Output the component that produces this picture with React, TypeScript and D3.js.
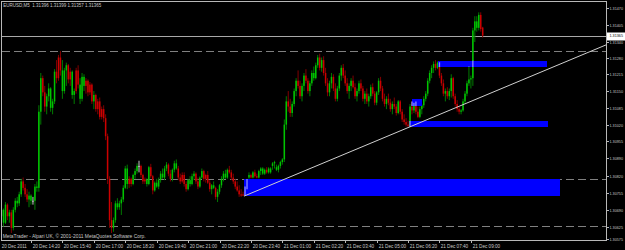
import React from "react";
import * as d3 from "d3";

const W = 625;
const H = 250;

const headerText = "EURUSD,M5  1.31396 1.31399 1.31357 1.31365";
const copyrightText = "MetaTrader - Alpari UK, © 2001-2011 MetaQuotes Software Corp.";

const timeLabels = [
  "20 Dec 2011", "20 Dec 14:20", "20 Dec 15:40", "20 Dec 17:00", "20 Dec 18:20",
  "20 Dec 19:40", "20 Dec 21:00", "20 Dec 22:20", "20 Dec 23:40", "21 Dec 01:00",
  "21 Dec 02:20", "21 Dec 03:40", "21 Dec 05:00", "21 Dec 06:20", "21 Dec 07:40",
  "21 Dec 09:00",
];
const timeLabelBars = [0, 16, 32, 48, 64, 80, 96, 112, 128, 144, 160, 176, 192, 208, 224, 240];

const priceLabels = [
  1.3147, 1.31405, 1.3134, 1.3128, 1.31215, 1.3115, 1.31085, 1.3102,
  1.30955, 1.3089, 1.3082, 1.30755, 1.3069, 1.30625, 1.30575,
];
const currentPrice = 1.31365;
const dashedLevels = [1.31306, 1.30809, 1.30627];

// rectangles: from bar, to bar, low price, high price
const rectBars0 = [223.5, 208.8, 124.7, 209.8];
const rectBars1 = [278.5, 279.5, 285.6, 214.9];
const rectLow = [1.31243, 1.31011, 1.30743, 1.31092];
const rectHigh = [1.31267, 1.31034, 1.30809, 1.31119];

// trend line anchors: bar, price
const trendBars = [124.5, 208.5];
const trendPrices = [1.30743, 1.3101];

// EURUSD M5 candles: [open, high, low, close]
const ohlc: [number, number, number, number][] = [
  [1.307, 1.30715, 1.3065, 1.30665],
  [1.30665, 1.307, 1.3064, 1.3069],
  [1.3064, 1.30695, 1.30625, 1.3069],
  [1.3064, 1.3072, 1.30635, 1.3071],
  [1.3071, 1.30715, 1.3065, 1.30665],
  [1.30665, 1.3069, 1.3064, 1.3068],
  [1.3068, 1.3069, 1.306, 1.3062],
  [1.3062, 1.307, 1.3061, 1.3069],
  [1.3069, 1.30735, 1.3068, 1.30725],
  [1.30715, 1.3074, 1.307, 1.30725],
  [1.30715, 1.3076, 1.30705, 1.3075],
  [1.3075, 1.3081, 1.3074, 1.308],
  [1.308, 1.30815, 1.30765, 1.30775],
  [1.30775, 1.3079, 1.3074, 1.3075],
  [1.3075, 1.3077, 1.3072, 1.3073],
  [1.3073, 1.3076, 1.307, 1.30745],
  [1.30725, 1.3075, 1.3071, 1.30745],
  [1.30725, 1.3074, 1.3071, 1.30725],
  [1.30725, 1.3079, 1.3069, 1.3078],
  [1.30775, 1.308, 1.3076, 1.3078],
  [1.30775, 1.31095, 1.3076, 1.3107],
  [1.3107, 1.3122, 1.3102, 1.312],
  [1.312, 1.3121, 1.3113, 1.31145],
  [1.31145, 1.3117, 1.3107, 1.3109],
  [1.3109, 1.3114, 1.3106, 1.3113],
  [1.3113, 1.3118, 1.3111, 1.3116],
  [1.31085, 1.31165, 1.3107, 1.3116],
  [1.31085, 1.3112, 1.3106, 1.3111],
  [1.3111, 1.31235, 1.311, 1.31225],
  [1.31225, 1.3127, 1.3118, 1.312],
  [1.3128, 1.3129, 1.3119, 1.312],
  [1.3128, 1.31305, 1.3121, 1.3123],
  [1.3115, 1.3127, 1.3112, 1.3123],
  [1.3115, 1.3124, 1.3114, 1.3123],
  [1.3123, 1.3126, 1.3117, 1.3125],
  [1.3125, 1.31255, 1.3118, 1.31195],
  [1.31225, 1.3124, 1.3117, 1.31195],
  [1.31135, 1.3123, 1.3112, 1.31225],
  [1.31135, 1.3116, 1.311, 1.3115],
  [1.3123, 1.3124, 1.3114, 1.3115],
  [1.3123, 1.3125, 1.3116, 1.31175],
  [1.3112, 1.312, 1.311, 1.31175],
  [1.3112, 1.3122, 1.3111, 1.31205],
  [1.3117, 1.31215, 1.3115, 1.31205],
  [1.3119, 1.312, 1.3114, 1.3117],
  [1.3119, 1.31195, 1.3113, 1.31145],
  [1.31175, 1.31185, 1.31135, 1.31145],
  [1.31175, 1.3118, 1.311, 1.3111],
  [1.3111, 1.3115, 1.3108, 1.31135],
  [1.31135, 1.3114, 1.3107, 1.3108],
  [1.3111, 1.3112, 1.3106, 1.3108],
  [1.3111, 1.31125, 1.3104, 1.3105],
  [1.3108, 1.3109, 1.3104, 1.3105],
  [1.3108, 1.31095, 1.3103, 1.31045],
  [1.31045, 1.3106, 1.3096, 1.30975],
  [1.30975, 1.30985, 1.3079, 1.3081],
  [1.3081, 1.3082, 1.3062, 1.3065],
  [1.3065, 1.3072, 1.306, 1.3062],
  [1.3062, 1.3066, 1.30605, 1.3065],
  [1.3065, 1.30725, 1.3064, 1.30715],
  [1.307, 1.30735, 1.3069, 1.30715],
  [1.307, 1.30725, 1.3069, 1.30715],
  [1.30715, 1.3074, 1.3067, 1.3073],
  [1.3073, 1.30785, 1.3072, 1.30775],
  [1.30775, 1.3086, 1.3077, 1.3085],
  [1.3079, 1.30865, 1.3077, 1.3085],
  [1.3081, 1.3082, 1.30775, 1.3079],
  [1.3081, 1.30815, 1.3078, 1.3079],
  [1.3079, 1.3083, 1.30785, 1.30825],
  [1.30825, 1.3085, 1.3081, 1.3084],
  [1.3084, 1.3087, 1.3083, 1.3086],
  [1.3086, 1.3088, 1.30835, 1.3086],
  [1.3086, 1.30865, 1.30815, 1.30825],
  [1.30825, 1.3083, 1.3079, 1.308],
  [1.30808, 1.30815, 1.3079, 1.308],
  [1.3079, 1.30812, 1.3078, 1.30808],
  [1.3079, 1.3086, 1.30785, 1.30855],
  [1.30855, 1.30868, 1.30812, 1.3082],
  [1.3082, 1.30825, 1.3075, 1.30765],
  [1.30765, 1.308, 1.3076, 1.30795],
  [1.3078, 1.3081, 1.30775, 1.30795],
  [1.3078, 1.30815, 1.3077, 1.30805],
  [1.30805, 1.3084, 1.30795, 1.3083],
  [1.30815, 1.3085, 1.3081, 1.3083],
  [1.30815, 1.3086, 1.30805, 1.3085],
  [1.3085, 1.30875, 1.3084, 1.30865],
  [1.30865, 1.3087, 1.3082, 1.3083],
  [1.3083, 1.30845, 1.308, 1.3081],
  [1.3081, 1.3085, 1.308, 1.30845],
  [1.30845, 1.3088, 1.30835, 1.3087],
  [1.3085, 1.30885, 1.30845, 1.3087],
  [1.3085, 1.3086, 1.30805, 1.30815],
  [1.30815, 1.3083, 1.3079, 1.308],
  [1.30825, 1.30835, 1.30795, 1.308],
  [1.30825, 1.30835, 1.3078, 1.3079],
  [1.3079, 1.308, 1.3076, 1.3077],
  [1.3077, 1.3081, 1.30765, 1.30805],
  [1.3079, 1.3082, 1.3078, 1.30805],
  [1.3079, 1.3083, 1.30785, 1.3082],
  [1.3082, 1.3084, 1.30805, 1.3083],
  [1.3083, 1.30835, 1.3079, 1.308],
  [1.308, 1.30815, 1.3077, 1.3078],
  [1.3078, 1.3082, 1.30775, 1.30815],
  [1.30815, 1.3085, 1.3081, 1.3084],
  [1.3084, 1.30845, 1.308, 1.3081],
  [1.30825, 1.3083, 1.30795, 1.3081],
  [1.30825, 1.3084, 1.3079, 1.30795],
  [1.30795, 1.30805, 1.3076, 1.3077],
  [1.3077, 1.3079, 1.3075, 1.30785],
  [1.30775, 1.308, 1.3077, 1.30785],
  [1.30775, 1.3078, 1.3073, 1.3074],
  [1.3074, 1.3077, 1.3072, 1.3076],
  [1.3076, 1.3079, 1.3075, 1.30785],
  [1.30785, 1.3082, 1.30775, 1.3081],
  [1.3081, 1.3084, 1.308, 1.3083],
  [1.30815, 1.30845, 1.3081, 1.3083],
  [1.30815, 1.3085, 1.3081, 1.30845],
  [1.30845, 1.3086, 1.3083, 1.30835],
  [1.30835, 1.30845, 1.30805, 1.30815],
  [1.30815, 1.3083, 1.3079, 1.308],
  [1.308, 1.3081, 1.3077, 1.3078],
  [1.3078, 1.308, 1.3076, 1.30765],
  [1.30765, 1.30785, 1.3074, 1.3075],
  [1.3075, 1.3077, 1.3074, 1.30745],
  [1.3075, 1.3076, 1.30743, 1.30745],
  [1.3075, 1.3078, 1.30745, 1.30775],
  [1.30775, 1.3081, 1.3077, 1.30805],
  [1.30815, 1.30835, 1.3081, 1.30825],
  [1.30825, 1.3083, 1.30812, 1.30815],
  [1.30815, 1.3084, 1.30812, 1.30835],
  [1.30835, 1.30845, 1.30815, 1.3082],
  [1.3082, 1.3083, 1.30812, 1.30815],
  [1.30815, 1.30845, 1.30812, 1.3084],
  [1.3084, 1.30855, 1.30825, 1.3085],
  [1.3083, 1.30855, 1.30825, 1.3085],
  [1.3083, 1.3085, 1.30825, 1.30845],
  [1.30845, 1.30855, 1.3083, 1.30835],
  [1.30835, 1.30855, 1.3083, 1.3085],
  [1.30835, 1.30855, 1.3083, 1.3085],
  [1.3086, 1.30875, 1.30845, 1.3087],
  [1.3087, 1.3088, 1.3085, 1.30875],
  [1.30845, 1.30865, 1.3084, 1.30855],
  [1.30845, 1.30865, 1.30835, 1.3086],
  [1.3086, 1.3088, 1.3085, 1.30875],
  [1.30875, 1.3089, 1.30865, 1.30885],
  [1.30885, 1.3104, 1.30875, 1.3102],
  [1.3102, 1.3113, 1.31, 1.3111],
  [1.3111, 1.3115, 1.3107, 1.3109],
  [1.3109, 1.3112, 1.3105, 1.31065],
  [1.31065, 1.3111, 1.3105, 1.311],
  [1.311, 1.3116, 1.3109, 1.3115],
  [1.3115, 1.312, 1.3113, 1.3119],
  [1.3119, 1.3123, 1.3116, 1.3117],
  [1.3117, 1.3119, 1.3112, 1.3113],
  [1.3113, 1.3118, 1.3111, 1.3117],
  [1.3117, 1.3122, 1.3115, 1.3121],
  [1.3121, 1.31235, 1.3118, 1.3119],
  [1.3119, 1.312, 1.3114, 1.3115],
  [1.3115, 1.3119, 1.3113, 1.3118],
  [1.3118, 1.3123, 1.3117, 1.3122],
  [1.312, 1.31245, 1.3119, 1.3122],
  [1.312, 1.3126, 1.31195, 1.3125],
  [1.3125, 1.3129, 1.3124, 1.3128],
  [1.3128, 1.31295, 1.3123, 1.3124],
  [1.3124, 1.3128, 1.31225, 1.3127],
  [1.3127, 1.31285, 1.3121, 1.3122],
  [1.3122, 1.3124, 1.3117, 1.3118],
  [1.3118, 1.312, 1.3113, 1.31145],
  [1.31145, 1.3119, 1.3113, 1.3118],
  [1.3118, 1.3122, 1.3116, 1.31205],
  [1.31205, 1.31215, 1.3115, 1.3116],
  [1.3116, 1.3118, 1.3111, 1.3112],
  [1.3112, 1.3117, 1.3111, 1.3116],
  [1.3116, 1.3122, 1.3115, 1.3121],
  [1.3121, 1.3125, 1.3119, 1.3124],
  [1.3124, 1.31255, 1.312, 1.3121],
  [1.3121, 1.3123, 1.3117, 1.3118],
  [1.3118, 1.312, 1.3114, 1.3115],
  [1.3115, 1.3118, 1.3112, 1.3117],
  [1.3117, 1.312, 1.3115, 1.3119],
  [1.3119, 1.3121, 1.3116, 1.31165],
  [1.31165, 1.3118, 1.3112, 1.3113],
  [1.3113, 1.3116, 1.3111, 1.3115],
  [1.3115, 1.3119, 1.3114, 1.3118],
  [1.3118, 1.31195, 1.3115, 1.3116],
  [1.3116, 1.3117, 1.3111, 1.3112],
  [1.3112, 1.3115, 1.311, 1.3114],
  [1.3114, 1.3116, 1.311, 1.3111],
  [1.3111, 1.3114, 1.3109, 1.3113],
  [1.3113, 1.31175, 1.3112, 1.31165],
  [1.31165, 1.3118, 1.3113, 1.3114],
  [1.3114, 1.3115, 1.31095, 1.31105],
  [1.31105, 1.3115, 1.31095, 1.31145],
  [1.31145, 1.312, 1.31135, 1.3119],
  [1.3119, 1.31205, 1.3115, 1.3116],
  [1.3116, 1.3117, 1.3111, 1.3112],
  [1.3112, 1.3114, 1.3109, 1.311],
  [1.311, 1.3113, 1.3108, 1.3112],
  [1.3112, 1.3114, 1.31095, 1.31105],
  [1.31105, 1.3112, 1.3107, 1.3108],
  [1.3108, 1.3111, 1.3106, 1.311],
  [1.311, 1.31125, 1.3108, 1.3109],
  [1.3109, 1.311, 1.31055, 1.31065],
  [1.31065, 1.31115, 1.3106, 1.3111],
  [1.3111, 1.31115, 1.3106, 1.3107],
  [1.3107, 1.3108, 1.3103, 1.3104],
  [1.3104, 1.3106, 1.3102, 1.3103],
  [1.3103, 1.31045, 1.31012, 1.3102],
  [1.3102, 1.31035, 1.3101, 1.31015],
  [1.31015, 1.311, 1.3101, 1.3109],
  [1.3109, 1.3111, 1.3106, 1.31075],
  [1.31075, 1.31105, 1.31065, 1.311],
  [1.311, 1.3111, 1.3106, 1.3107],
  [1.3107, 1.3109, 1.31045, 1.3105],
  [1.3105, 1.3109, 1.31045, 1.3108],
  [1.3108, 1.311, 1.3106, 1.31095],
  [1.31095, 1.3113, 1.31085, 1.3112],
  [1.3112, 1.3115, 1.3111, 1.3114],
  [1.3114, 1.312, 1.3113, 1.3119],
  [1.3119, 1.3123, 1.3118, 1.3122],
  [1.3122, 1.3125, 1.312, 1.3124],
  [1.3124, 1.31265, 1.3122, 1.31255],
  [1.31255, 1.3127, 1.3123, 1.3124],
  [1.3124, 1.31265, 1.31235, 1.3126],
  [1.3126, 1.31262, 1.312, 1.3121],
  [1.3121, 1.3122, 1.3117, 1.3118],
  [1.3118, 1.31195, 1.3113, 1.3114],
  [1.3114, 1.3116, 1.3111, 1.3115],
  [1.3115, 1.31165, 1.3112, 1.3113],
  [1.3113, 1.3116, 1.31115, 1.3115],
  [1.3115, 1.31215, 1.31125, 1.312],
  [1.312, 1.31205, 1.3112, 1.3113],
  [1.3113, 1.3114, 1.3109, 1.311],
  [1.311, 1.31115, 1.3107, 1.3108],
  [1.3108, 1.3109, 1.3106, 1.3107],
  [1.3107, 1.3108, 1.3106, 1.31075],
  [1.31075, 1.3112, 1.3107, 1.3111],
  [1.3111, 1.3115, 1.311, 1.3114],
  [1.3114, 1.3119, 1.3113, 1.3118],
  [1.3118, 1.31245, 1.3117, 1.31195],
  [1.31195, 1.3121, 1.3116, 1.312],
  [1.312, 1.31395, 1.3117, 1.31385],
  [1.31385, 1.3144, 1.3134, 1.3142],
  [1.31395, 1.3144, 1.3138, 1.3142],
  [1.31395, 1.31455, 1.31385, 1.31445],
  [1.31445, 1.31455, 1.3138, 1.3139],
  [1.31396, 1.31399, 1.31357, 1.31365],
];

const BG = "#000000";
const FRAME = "#b8b8b8";
const TEXT = "#c8c8c8";
const BULL_BODY = "#00c400";
const BULL_WICK = "#007a00";
const BEAR_BODY = "#cc0000";
const BEAR_WICK = "#800000";
const DOJI = "#c8c8c8";
const RECT = "#0000ff";
const INRECT = "#8c8cff";

const PLOT = { x0: 1.5, x1: 606, y0: 1.5, y1: 240 };

export default function App() {
  const x = d3.scaleLinear().domain([0, 240]).range([-0.43, 470.9]);
  const y = d3.scaleLinear().domain([1.30573, 1.31497]).range([240, 1.5]);

  const rects = rectBars0.map((b0, k) => ({
    x: x(b0),
    w: x(rectBars1[k]) - x(b0),
    y: y(rectHigh[k]),
    h: y(rectLow[k]) - y(rectHigh[k]),
  }));

  const candles = ohlc.map((c, i) => {
    const cx = x(i);
    const yh = y(c[1]);
    const yl = Math.max(y(c[2]), yh + 1);
    const bt = y(Math.max(c[0], c[3]));
    const bb = Math.max(y(Math.min(c[0], c[3])), bt + 1);
    const bull = c[3] > c[0];
    const bear = c[3] < c[0];
    return {
      i, cx, yh, yl, bt, bb,
      body: bull ? BULL_BODY : bear ? BEAR_BODY : DOJI,
      wick: bull ? BULL_WICK : bear ? BEAR_WICK : DOJI,
    };
  });

  // candle parts lying inside a rectangle are shown lighter, as MetaTrader does
  const inside: { x: number; a: number; b: number; key: string }[] = [];
  candles.forEach((c) => {
    rects.forEach((r, k) => {
      if (c.cx >= r.x && c.cx <= r.x + r.w) {
        const a = Math.max(c.yh, r.y);
        const b = Math.min(c.yl, r.y + r.h);
        if (b > a) inside.push({ x: c.cx, a, b, key: `${c.i}-${k}` });
      }
    });
  });

  const tx1 = x(trendBars[0]);
  const ty1 = y(trendPrices[0]);
  const slope = (y(trendPrices[1]) - ty1) / (x(trendBars[1]) - tx1);
  const tx2 = PLOT.x1;
  const ty2 = ty1 + slope * (tx2 - tx1);

  const font = "'Liberation Sans', Arial, sans-serif";
  const cpY = y(currentPrice);

  return (
    <svg width={W} height={H} style={{ position: "absolute", left: 0, top: 0, background: BG }}>
      <defs>
        <clipPath id="plotclip">
          <rect x={PLOT.x0} y={PLOT.y0} width={PLOT.x1 - PLOT.x0} height={PLOT.y1 - PLOT.y0} />
        </clipPath>
      </defs>
      <rect x={0} y={0} width={W} height={H} fill={BG} />

      <g clipPath="url(#plotclip)">
        {dashedLevels.map((p, k) => (
          <line key={k} x1={PLOT.x0} x2={PLOT.x1} y1={Math.round(y(p)) + 0.5} y2={Math.round(y(p)) + 0.5}
            stroke="#808080" strokeDasharray="8 4" shapeRendering="crispEdges" />
        ))}
        <line x1={PLOT.x0} x2={PLOT.x1} y1={Math.round(cpY) + 0.5} y2={Math.round(cpY) + 0.5}
          stroke="#a8a8a8" shapeRendering="crispEdges" />
        {candles.map((c) => (
          <g key={c.i}>
            <line x1={c.cx} x2={c.cx} y1={c.yh} y2={c.yl} stroke={c.wick} strokeWidth={1} />
            <rect x={c.cx - 0.75} y={c.bt} width={1.5} height={c.bb - c.bt} fill={c.body} />
          </g>
        ))}
        {rects.map((r, k) => (
          <rect key={k} x={r.x} y={r.y} width={r.w} height={r.h} fill={RECT} shapeRendering="crispEdges" />
        ))}
        {inside.map((s) => (
          <line key={s.key} x1={s.x} x2={s.x} y1={s.a} y2={s.b} stroke={INRECT} strokeWidth={1.3} />
        ))}
        <line x1={tx1} y1={ty1} x2={tx2} y2={ty2} stroke="#d0d0d0" strokeWidth={1} />
      </g>

      <rect x={PLOT.x0} y={PLOT.y0} width={PLOT.x1 - PLOT.x0} height={PLOT.y1 - PLOT.y0}
        fill="none" stroke={FRAME} strokeWidth={1} shapeRendering="crispEdges" />

      {priceLabels.map((p, k) => {
        const yy = Math.min(Math.round(y(p)) + 0.5, 239.5);
        return (
          <g key={k}>
            <line x1={PLOT.x1} x2={PLOT.x1 + 3} y1={yy} y2={yy} stroke={FRAME} shapeRendering="crispEdges" />
            <text x={609.5} y={yy + 1.6} fill={TEXT} fontSize={4.3} fontFamily={font}
              textLength={13.5} lengthAdjust="spacingAndGlyphs">{p.toFixed(5)}</text>
          </g>
        );
      })}

      <rect x={607} y={Math.round(cpY) - 3.5} width={18} height={8} fill="#ffffff" />
      <text x={609.5} y={cpY + 1.8} fill="#000000" fontSize={4.3} fontFamily={font}
        textLength={13.5} lengthAdjust="spacingAndGlyphs">{currentPrice.toFixed(5)}</text>

      {timeLabels.map((t, k) => {
        const xx = Math.round(x(timeLabelBars[k])) + 0.5;
        return (
          <g key={k}>
            {k > 0 && <line x1={xx} x2={xx} y1={PLOT.y1} y2={PLOT.y1 + 3} stroke={FRAME} shapeRendering="crispEdges" />}
            <text x={Math.max(xx + 1.2, 1.8)} y={247.8} fill={TEXT} fontSize={5.2} fontFamily={font}
              textLength={k === 0 ? 25 : 27.5} lengthAdjust="spacingAndGlyphs">{t}</text>
          </g>
        );
      })}

      <text x={3.3} y={7.2} fill={TEXT} fontSize={5.4} fontFamily={font}
        textLength={98} lengthAdjust="spacingAndGlyphs" xmlSpace="preserve">{headerText}</text>
      <text x={2.7} y={238.3} fill={TEXT} fontSize={5.4} fontFamily={font}
        textLength={143} lengthAdjust="spacingAndGlyphs">{copyrightText}</text>
    </svg>
  );
}
